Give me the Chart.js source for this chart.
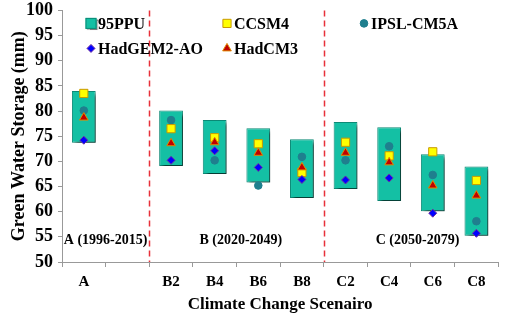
<!DOCTYPE html>
<html>
<head>
<meta charset="utf-8">
<script src="https://cdn.jsdelivr.net/npm/chart.js@4.4.1/dist/chart.umd.min.js"></script>
<style>
html, body { margin: 0; padding: 0; background: #fff; }
#wrap { width: 505px; height: 315px; }
</style>
</head>
<body>
<div id="wrap"><canvas id="chart_greenWaterStorage"></canvas></div>
<script>
var categories = ['A', '', 'B2', 'B4', 'B6', 'B8', 'C2', 'C4', 'C6', 'C8'];
var ppuLow  = [73.7, null, 69.1, 67.5, 65.8, 62.7, 64.5, 62.1, 60.1, 55.2];
var ppuHigh = [84.0, null, 80.1, 78.2, 76.6, 74.4, 77.8, 76.8, 71.4, 69.0];
var ccsm4   = [83.5, null, 76.5, 74.7, 73.5, 67.8, 73.8, 71.1, 71.9, 66.2];
var ipsl    = [80.1, null, 78.2, 70.2, 65.2, 70.9, 70.2, 73.0, 67.3, 58.1];
var hadgem  = [74.2, null, 70.2, 72.1, 68.8, 66.4, 66.3, 66.7, 59.7, 55.7];
var hadcm3  = [78.7, null, 73.6, 73.8, 71.7, 68.8, 71.7, 69.8, 65.2, 63.2];
var yTicks  = [50, 55, 60, 65, 70, 75, 80, 85, 90, 95, 100];
var periodNames = ['A (1996-2015)', 'B (2020-2049)', 'C (2050-2079)'];

var serif = '"Liberation Serif", "Times New Roman", serif';

var ppuRange = ppuLow.map(function (lo, i) {
    return lo == null ? null : [lo, ppuHigh[i]];
});

function markerSet(label, values, style, radius, fill, border, order) {
    return {
        type: 'line',
        label: label,
        data: values,
        showLine: false,
        pointStyle: style,
        pointRadius: radius,
        pointHoverRadius: radius,
        pointBackgroundColor: fill,
        pointBorderColor: border,
        pointBorderWidth: 1,
        backgroundColor: fill,
        borderColor: border,
        order: order
    };
}

var chart_greenWaterStorage = new Chart(document.getElementById('chart_greenWaterStorage'), {
    type: 'bar',
    data: {
        labels: categories,
        datasets: [
            {
                label: '95PPU',
                data: ppuRange,
                backgroundColor: '#14c0a4',
                borderColor: '#0c8a76',
                borderWidth: 1,
                borderSkipped: false,
                barPercentage: 0.545,
                categoryPercentage: 1,
                order: 10
            },
            markerSet('CCSM4', ccsm4, 'rect', 5.8, '#ffff00', '#c89a00', 3),
            markerSet('IPSL-CM5A', ipsl, 'circle', 3.8, '#1f7f8e', '#1f7f8e', 4),
            markerSet('HadGEM2-AO', hadgem, 'rectRot', 4, '#0000ff', '#7030a0', 1),
            markerSet('HadCM3', hadcm3, 'triangle', 5, '#c00000', '#e08a00', 2)
        ]
    },
    options: {
        animation: false,
        responsive: true,
        maintainAspectRatio: false,
        layout: { padding: { top: 0, right: 3, left: 0, bottom: 0 } },
        plugins: {
            legend: { display: false },
            tooltip: { enabled: false }
        },
        scales: {
            x: {
                offset: true,
                grid: {
                    offset: true,
                    drawOnChartArea: false,
                    tickLength: 5,
                    color: '#999'
                },
                border: { color: '#999' },
                ticks: {
                    color: '#000',
                    padding: 6,
                    maxRotation: 0,
                    font: { family: serif, size: 15, weight: 'bold' }
                },
                title: {
                    display: true,
                    text: 'Climate Change Scenairo',
                    color: '#000',
                    padding: { top: 0, bottom: 0 },
                    font: { family: serif, size: 17, weight: 'bold' }
                },
                afterFit: function (scale) { scale.height = 53; }
            },
            y: {
                min: 50,
                max: 100,
                afterBuildTicks: function (scale) {
                    scale.ticks = yTicks.map(function (v) { return { value: v }; });
                },
                grid: {
                    drawOnChartArea: false,
                    tickLength: 4,
                    color: '#999'
                },
                border: { color: '#999' },
                ticks: {
                    color: '#000',
                    padding: 5,
                    font: { family: serif, size: 18, weight: 'bold', lineHeight: 0.6 }
                },
                title: {
                    display: true,
                    text: 'Green Water Storage (mm)',
                    color: '#000',
                    padding: { top: 9, bottom: 0 },
                    font: { family: serif, size: 18, weight: 'bold' }
                },
                afterFit: function (scale) { scale.width = 62; }
            }
        }
    },
    plugins: [{
        id: 'barShadow',
        beforeDatasetDraw: function (chart, args) {
            if (args.index !== 0) return;
            var ctx = chart.ctx;
            ctx.save();
            ctx.shadowColor = 'rgba(0,0,0,0.6)';
            ctx.shadowOffsetX = 3;
            ctx.shadowOffsetY = 3;
            ctx.shadowBlur = 3;
        },
        afterDatasetDraw: function (chart, args) {
            if (args.index !== 0) return;
            chart.ctx.restore();
        }
    }, {
        id: 'periods',
        beforeDatasetsDraw: function (chart) {
            var ctx = chart.ctx, xs = chart.scales.x, ys = chart.scales.y, area = chart.chartArea;
            ctx.save();
            ctx.strokeStyle = '#e8303a';
            ctx.lineWidth = 1.5;
            ctx.setLineDash([6, 4]);
            [1.5, 5.5].forEach(function (v) {
                var px = Math.round(xs.getPixelForValue(v)) + 0.5;
                ctx.beginPath();
                ctx.moveTo(px, area.top);
                ctx.lineTo(px, area.bottom);
                ctx.stroke();
            });
            ctx.setLineDash([]);
            ctx.fillStyle = '#000';
            ctx.font = 'bold 14px ' + serif;
            ctx.textAlign = 'center';
            ctx.textBaseline = 'middle';
            var at = [0.5, 3.6, 7.65];
            periodNames.forEach(function (t, i) {
                ctx.fillText(t, xs.getPixelForValue(at[i]), ys.getPixelForValue(54.3));
            });
            ctx.restore();
        }
    }, {
        id: 'insideLegend',
        afterDraw: function (chart) {
            var ctx = chart.ctx, area = chart.chartArea;
            var slots = [[29, 13], [165, 13], [302, 13], [29, 38], [165, 38]];
            ctx.save();
            ctx.font = 'bold 16px ' + serif;
            ctx.textBaseline = 'middle';
            ctx.textAlign = 'left';
            chart.data.datasets.forEach(function (ds, i) {
                var x = area.left + slots[i][0], y = area.top + slots[i][1];
                if (i === 0) {
                    ctx.save();
                    ctx.shadowColor = 'rgba(0,0,0,0.5)';
                    ctx.shadowOffsetX = 1.5;
                    ctx.shadowOffsetY = 1.5;
                    ctx.shadowBlur = 1;
                    ctx.fillStyle = ds.backgroundColor;
                    ctx.fillRect(x - 5.5, y - 5.5, 11, 11);
                    ctx.restore();
                    ctx.strokeStyle = ds.borderColor;
                    ctx.lineWidth = 1;
                    ctx.strokeRect(x - 5, y - 5, 10, 10);
                } else {
                    ctx.fillStyle = ds.pointBackgroundColor;
                    ctx.strokeStyle = ds.pointBorderColor;
                    ctx.lineWidth = 1;
                    Chart.helpers.drawPoint(ctx, {
                        pointStyle: ds.pointStyle,
                        radius: ds.pointRadius,
                        rotation: 0,
                        borderWidth: 1
                    }, x, y);
                }
                ctx.fillStyle = '#000';
                ctx.fillText(ds.label, x + 7, y + 1);
            });
            ctx.restore();
        }
    }, {
        id: 'whiteBackground',
        beforeDraw: function (chart) {
            var ctx = chart.canvas.getContext('2d');
            ctx.save();
            ctx.globalCompositeOperation = 'destination-over';
            ctx.fillStyle = 'white';
            ctx.fillRect(0, 0, chart.canvas.width, chart.canvas.height);
            ctx.restore();
        }
    }]
});
</script>
</body>
</html>
